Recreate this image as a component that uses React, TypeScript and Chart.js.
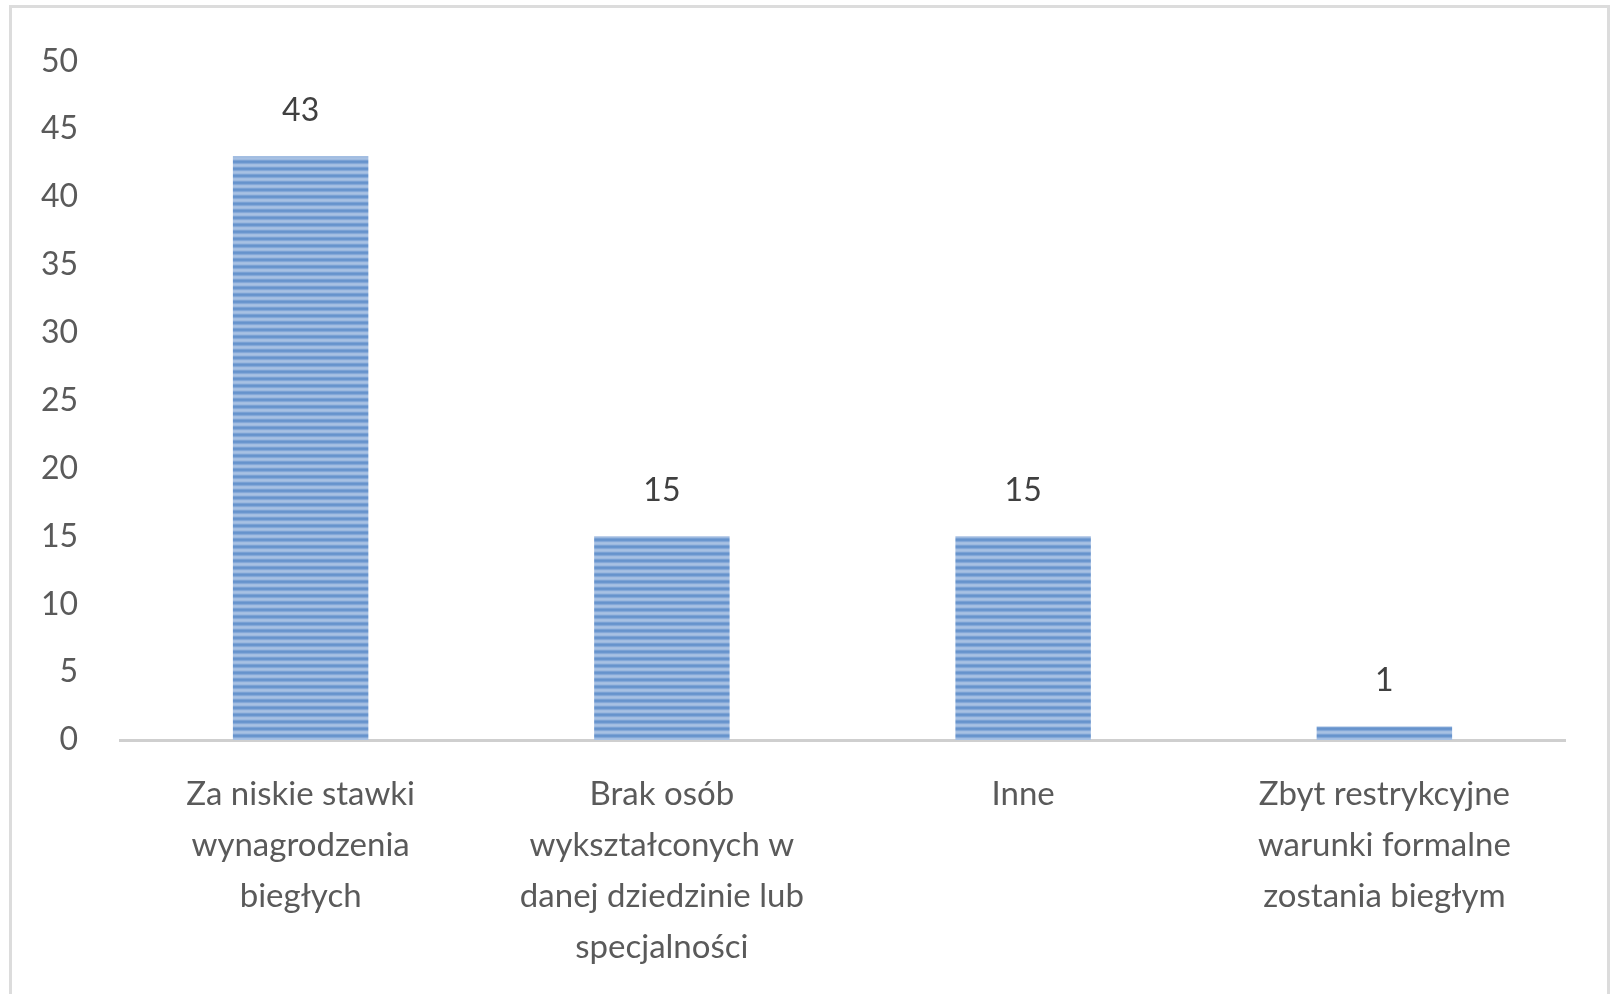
import React, { useEffect, useRef } from "react";
import { Chart, registerables } from "chart.js";

Chart.register(...registerables);

const categories: string[][] = [
  ["Za niskie stawki", "wynagrodzenia", "biegłych"],
  ["Brak osób", "wykształconych w", "danej dziedzinie lub", "specjalności"],
  ["Inne"],
  ["Zbyt restrykcyjne", "warunki formalne", "zostania biegłym"],
];
const values: number[] = [43, 15, 15, 1];
const yMin = 0;
const yMax = 50;
const yStep = 5;

const FONT = "Lato, 'Open Sans', sans-serif";

function makeStripePattern(ctx: CanvasRenderingContext2D): CanvasPattern | string {
  const c = document.createElement("canvas");
  c.width = 4;
  c.height = 7;
  const p = c.getContext("2d");
  if (!p) return "#86a8d8";
  const rows = ["#6693cc", "#6a96ce", "#84a8d8", "#a2bde1", "#a8c1e3", "#9cb9df", "#7aa1d4"];
  rows.forEach((col, i) => {
    p.fillStyle = col;
    p.fillRect(0, i, 4, 1);
  });
  const pat = ctx.createPattern(c, "repeat");
  return pat || "#86a8d8";
}

const valueLabels = {
  id: "valueLabels",
  afterDatasetsDraw(chart: any) {
    const ctx = chart.ctx as CanvasRenderingContext2D;
    const meta = chart.getDatasetMeta(0);
    ctx.save();
    ctx.font = `32px ${FONT}`;
    ctx.fillStyle = "#404040";
    ctx.textAlign = "center";
    ctx.textBaseline = "middle";
    meta.data.forEach((bar: any, i: number) => {
      ctx.fillText(String(values[i]), bar.x, bar.y - 46);
    });
    ctx.restore();
  },
};

export default function App() {
  const ref = useRef<HTMLCanvasElement | null>(null);

  useEffect(() => {
    const canvas = ref.current;
    if (!canvas) return;
    const ctx = canvas.getContext("2d");
    if (!ctx) return;
    const pattern = makeStripePattern(ctx);

    const chart = new Chart(canvas, {
      type: "bar",
      data: {
        labels: categories,
        datasets: [
          {
            data: values,
            backgroundColor: pattern as any,
            borderWidth: 0,
            categoryPercentage: 1,
            barPercentage: 0.375,
          },
        ],
      },
      options: {
        responsive: false,
        animation: false,
        devicePixelRatio: 1,
        layout: { padding: { top: 57, right: 52, bottom: 0, left: 0 } },
        plugins: {
          legend: { display: false },
          tooltip: { enabled: false },
          title: { display: false },
        },
        scales: {
          x: {
            grid: { display: false, drawTicks: false },
            border: { display: true, color: "#cfcfcf", width: 3 },
            ticks: {
              color: "#5a5a5a",
              font: { family: FONT, size: 33, lineHeight: 1.545 } as any,
              padding: 29,
              maxRotation: 0,
              autoSkip: false,
            },
            afterFit: (scale: any) => {
              scale.height = 254;
            },
          },
          y: {
            min: yMin,
            max: yMax,
            grid: { display: false, drawTicks: false },
            border: { display: false },
            ticks: {
              stepSize: yStep,
              color: "#5a5a5a",
              font: { family: FONT, size: 32 },
              padding: 42,
            },
            afterFit: (scale: any) => {
              scale.width = 120;
            },
          },
        },
      },
      plugins: [valueLabels],
    });
    return () => chart.destroy();
  }, []);

  return (
    <div
      style={{
        position: "fixed",
        left: 0,
        top: 0,
        width: 1617,
        height: 994,
        background: "#ffffff",
        overflow: "hidden",
      }}
    >
      <div
        style={{
          position: "absolute",
          left: 9,
          top: 5,
          width: 1601,
          height: 1100,
          border: "3px solid #dcdcdc",
          boxSizing: "border-box",
        }}
      />
      <canvas
        ref={ref}
        width={1617}
        height={994}
        style={{ position: "absolute", left: 0, top: 0, width: 1617, height: 994 }}
      />
    </div>
  );
}
